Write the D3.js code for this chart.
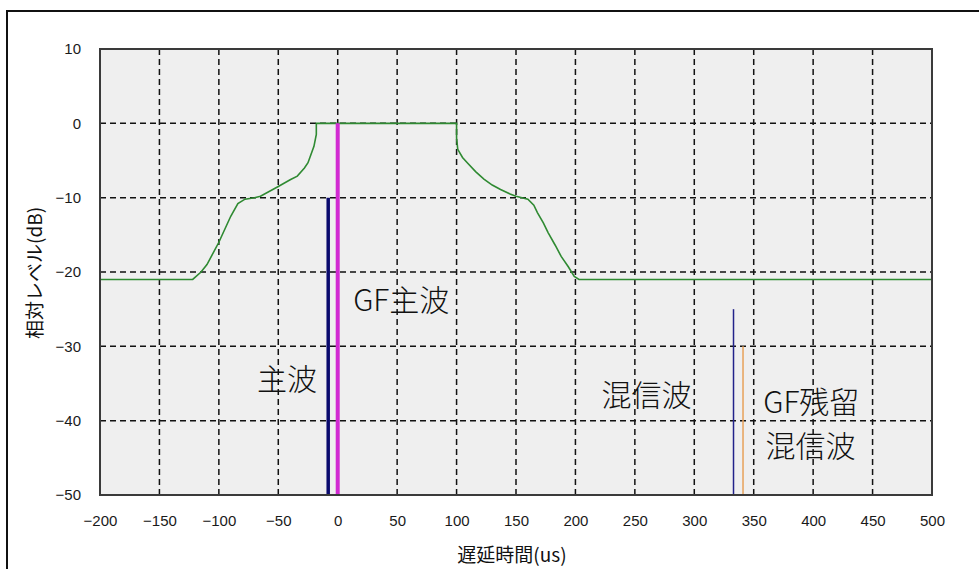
<!DOCTYPE html>
<html>
<head>
<meta charset="utf-8">
<script src="https://cdn.jsdelivr.net/npm/d3@7"></script>
<style>
  body { margin: 0; background: #fff; }
  svg { display: block; }
</style>
</head>
<body>
<div id="chart"></div>
<script>
// green guard-filter profile
const delayUs = [-200, -122, -115, -110, -100, -90, -84, -78, -70, -65, -50, -40, -34, -28, -25, -20, -18, -18,
  100, 100, 101, 105, 109, 116, 123, 130, 137, 145, 150, 155, 160, 165, 168, 173, 177, 183, 188, 194, 199, 203, 500];
const levelDb = [-21, -21, -20, -19, -16, -12.5, -10.8, -10.2, -10, -9.8, -8.5, -7.6, -7.1, -6, -5.3, -3.1, -1.5, 0,
  0, -2, -3.5, -4.6, -5.3, -6.5, -7.5, -8.3, -8.9, -9.5, -9.8, -10, -10.2, -11, -12, -13.4, -14.7, -16.4, -17.9, -19.3, -20.6, -21, -21];

// impulse lines
const waveNames = ["主波", "GF主波", "混信波", "GF残留混信波"];
const waveDelay = [-8, 0, 333, 341];
const waveLevel = [-10, 0, -25, -30];
const waveColor = ["#0a0a6e", "#d22ad2", "#22228a", "#e8a25a"];
const waveWidth = [3.5, 4, 1.5, 1.5];

const xTicks = [-200, -150, -100, -50, 0, 50, 100, 150, 200, 250, 300, 350, 400, 450, 500];
const yTicks = [10, 0, -10, -20, -30, -40, -50];

const W = 979, H = 569;
const margin = { top: 49, right: 47, bottom: 74, left: 100 };

const svg = d3.select("#chart").append("svg")
  .attr("width", W).attr("height", H);

// outer frame
svg.append("rect")
  .attr("x", 7).attr("y", 11)
  .attr("width", W + 10).attr("height", H + 10)
  .attr("fill", "#fff").attr("stroke", "#111").attr("stroke-width", 2);

const x = d3.scaleLinear().domain([-200, 500]).range([margin.left, W - margin.right]);
const y = d3.scaleLinear().domain([-50, 10]).range([H - margin.bottom, margin.top]);

// plot background
svg.append("rect")
  .attr("x", x(-200)).attr("y", y(10))
  .attr("width", x(500) - x(-200)).attr("height", y(-50) - y(10))
  .attr("fill", "#efefef");

// grid
const grid = svg.append("g").attr("stroke", "#111").attr("stroke-width", 1.5).attr("stroke-dasharray", "6,4");
grid.selectAll("line.v").data(xTicks.slice(1, -1)).enter().append("line")
  .attr("x1", d => x(d)).attr("x2", d => x(d))
  .attr("y1", y(10)).attr("y2", y(-50));
grid.selectAll("line.h").data(yTicks.slice(1, -1)).enter().append("line")
  .attr("x1", x(-200)).attr("x2", x(500))
  .attr("y1", d => y(d)).attr("y2", d => y(d));

// green profile
svg.append("path")
  .datum(delayUs.map((d, i) => [d, levelDb[i]]))
  .attr("fill", "none")
  .attr("stroke", "#2f8a32")
  .attr("stroke-width", 1.6)
  .attr("d", d3.line().x(d => x(d[0])).y(d => y(d[1])));

// impulses
svg.selectAll("line.wave").data(waveDelay).enter().append("line")
  .attr("x1", d => x(d)).attr("x2", d => x(d))
  .attr("y1", (d, i) => y(waveLevel[i])).attr("y2", y(-50))
  .attr("stroke", (d, i) => waveColor[i])
  .attr("stroke-width", (d, i) => waveWidth[i]);

// plot border
svg.append("rect")
  .attr("x", x(-200)).attr("y", y(10))
  .attr("width", x(500) - x(-200)).attr("height", y(-50) - y(10))
  .attr("fill", "none").attr("stroke", "#3a3a3a").attr("stroke-width", 2);

// axes (labels only)
const tickFont = "Liberation Sans, Arial, sans-serif";
const xAxis = svg.append("g")
  .attr("transform", `translate(0,${y(-50) + 12})`)
  .call(d3.axisBottom(x).tickValues(xTicks).tickSize(0).tickPadding(8));
const yAxis = svg.append("g")
  .attr("transform", `translate(${x(-200) - 12},0)`)
  .call(d3.axisLeft(y).tickValues(yTicks).tickSize(0).tickPadding(7));
[xAxis, yAxis].forEach(a => {
  a.select(".domain").remove();
  a.selectAll("text").attr("font-family", tickFont).attr("font-size", 15).attr("fill", "#1a1a1a");
});

// axis titles
svg.append("text")
  .attr("x", 512).attr("y", 553)
  .attr("text-anchor", "middle").attr("dominant-baseline", "central")
  .attr("font-family", "Noto Sans CJK JP").attr("font-size", 19).attr("fill", "#111")
  .text("遅延時間(us)");
svg.append("text")
  .attr("transform", "translate(33,273) rotate(-90)")
  .attr("text-anchor", "middle").attr("dominant-baseline", "central")
  .attr("font-family", "Noto Sans CJK JP").attr("font-size", 19).attr("fill", "#111")
  .text("相対レベル(dB)");

// annotations
const labelFont = "Noto Sans CJK JP";
const notes = [
  { t: "GF主波", dx: 13, yy: 298 },
  { t: "主波", dx: -68, yy: 377 },
  { t: "混信波", dx: 222, yy: 393 },
  { t: "GF残留", dx: 358, yy: 400 },
  { t: "混信波", dx: 360, yy: 444 }
];
svg.selectAll("text.note").data(notes).enter().append("text")
  .attr("class", "note")
  .attr("x", d => x(d.dx)).attr("y", d => d.yy)
  .attr("dominant-baseline", "central")
  .attr("font-family", labelFont).attr("font-weight", 300)
  .attr("font-size", 30).attr("fill", "#111")
  .text(d => d.t);
</script>
</body>
</html>
